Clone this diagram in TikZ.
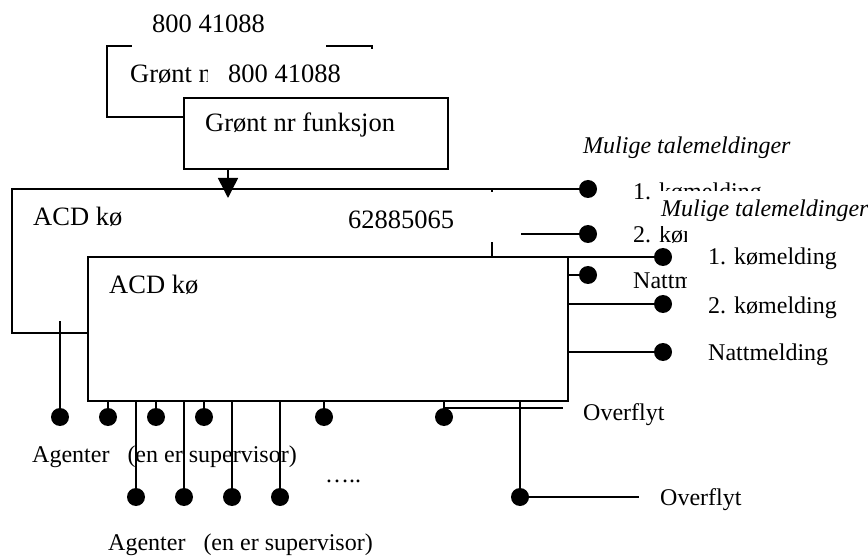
\documentclass[tikz,border=0pt]{standalone}
\usepackage{fontspec}
\setmainfont{Liberation Serif}
\usetikzlibrary{arrows.meta}
\begin{document}
\begin{tikzpicture}[x=1pt,y=-1pt,
  ln/.style={line width=1.5pt},
  boxn/.style={draw, line width=1.5pt, fill=white, rectangle, anchor=north west, inner sep=0pt, outer sep=0pt},
  cover/.style={fill=white, rectangle, anchor=north west, inner sep=0pt, outer sep=0pt},
  bigt/.style={font=\fontsize{26.5}{30}\selectfont, anchor=base west, inner sep=0pt},
  smt/.style={font=\fontsize{24}{28}\selectfont, anchor=base west, inner sep=0pt},
  dotn/.style={circle, fill=black, inner sep=0pt, minimum size=18pt}]
\useasboundingbox (0,0) rectangle (868,556);
\fill[white] (0,0) rectangle (868,556);

% ---------- back layer ----------
\node[boxn, minimum width=265pt, minimum height=71pt] (gB) at (107,46) {};
\node[cover, minimum width=194pt, minimum height=47pt] (lB) at (132,0) {};
\node[bigt] (tlB) at (152,33) {800 41088};
\node[bigt] (tgB) at (130,83) {Grønt nr funksjon};

\node[boxn, minimum width=480pt, minimum height=144pt] (aB) at (12,189) {};
\coordinate (tipB) at (228,198);
\draw[ln, -{Triangle[length=20pt,width=20pt]}] (tipB |- gB.south) -- (tipB);
\node[bigt] (acdB) at (33,226) {ACD kø};

\node[dotn] (mB1) at (588,189) {};
\node[dotn] (mB2) at (588,234) {};
\node[dotn] (mB3) at (588,275) {};
\draw[ln] (aB.north east) -- (mB1);
\draw[ln] (mB2 -| aB.east) -- (mB2);
\draw[ln] (mB3 -| aB.east) -- (mB3);

\node[cover, minimum width=191pt, minimum height=49.5pt] (nB) at (330,192.5) {};
\node[bigt] (numB) at (348,229) {62885065};

\node[smt] (mulB) at (583,154) {\itshape Mulige talemeldinger};
\node[smt] (k1B) at (633,200) {1. kømelding};
\node[smt] (k2B) at (633,243) {2. kømelding};
\node[smt] (natB) at (633,288) {Nattmelding};

\foreach \x [count=\i] in {108,156,204,324} {
  \node[dotn] (agB\i) at (\x,417) {};
  \draw[ln] (agB\i) -- (agB\i |- aB.south);
}
\node[dotn] (agB0) at (60,417) {};
\coordinate (agB0top) at (60,321);
\draw[ln] (agB0) -- (agB0top);
\node[dotn] (ovB) at (444,417) {};
\draw[ln] (ovB) -- (ovB |- aB.south);
\coordinate (ovBend) at (563,408);
\draw[ln] (ovB |- ovBend) -- (ovBend);
\node[smt] (ovtB) at (583,420) {Overflyt};
\node[smt] (agtB) at (32,462) {Agenter\hspace{18pt}(en er supervisor)};

% ---------- front layer ----------
\node[boxn, minimum width=264pt, minimum height=71pt] (gF) at (184,98) {};
\node[cover, minimum width=194pt, minimum height=48pt] (lF) at (208,49) {};
\node[bigt] (tlF) at (228,83) {800 41088};
\node[bigt] (tgF) at (205,132) {Grønt nr funksjon};

\node[boxn, minimum width=480pt, minimum height=144pt] (aF) at (88,257) {};
\node[bigt] (acdF) at (109,294) {ACD kø};

\fill[white] (651,191) rectangle (868,226);
\fill[white] (687,226) rectangle (868,298);

\node[dotn] (mF1) at (663,257) {};
\node[dotn] (mF2) at (663,304) {};
\node[dotn] (mF3) at (663,352) {};
\draw[ln] (aF.north east) -- (mF1);
\draw[ln] (mF2 -| aF.east) -- (mF2);
\draw[ln] (mF3 -| aF.east) -- (mF3);
\node[smt] (mulF) at (661,217) {\itshape Mulige talemeldinger};
\node[smt] (k1F) at (708,265) {1. kømelding};
\node[smt] (k2F) at (708,313) {2. kømelding};
\node[smt] (natF) at (708,360) {Nattmelding};

\foreach \x [count=\i] in {136,184,232,280} {
  \node[dotn] (agF\i) at (\x,497) {};
  \draw[ln] (agF\i) -- (agF\i |- aF.south);
}
\node[smt] (ellF) at (325,482) {…..};
\node[dotn] (ovF) at (520,497) {};
\draw[ln] (ovF) -- (ovF |- aF.south);
\coordinate (ovFend) at (639,497);
\draw[ln] (ovF) -- (ovFend);
\node[smt] (ovtF) at (660,505) {Overflyt};
\node[smt] (agtF) at (108,550) {Agenter\hspace{18pt}(en er supervisor)};
\end{tikzpicture}
\end{document}
